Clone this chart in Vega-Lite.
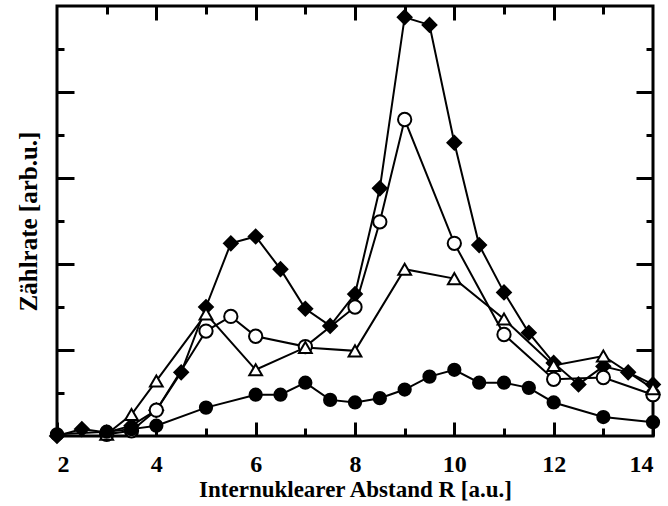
{
  "$schema": "https://vega.github.io/schema/vega-lite/v6.json",
  "width": 596,
  "height": 430,
  "autosize": "none",
  "padding": {"left": 57, "top": 6, "right": 15, "bottom": 70},
  "background": "white",
  "config": {
    "view": {"stroke": "black", "strokeWidth": 3},
    "font": "Liberation Serif",
    "axis": {"domain": false, "grid": false, "tickColor": "black", "tickWidth": 3, "labelFont": "Liberation Serif", "labelFontWeight": "bold", "labelFontSize": 24, "labelColor": "black", "titleFont": "Liberation Serif", "titleFontWeight": "bold", "titleFontSize": 23, "titleColor": "black"}
  },
  "data": {"values": [
    {"series": "A", "x": 2.0, "y": 0.0},
    {"series": "A", "x": 2.5, "y": 0.08},
    {"series": "A", "x": 3.0, "y": 0.04},
    {"series": "A", "x": 3.5, "y": 0.12},
    {"series": "A", "x": 4.0, "y": 0.3},
    {"series": "A", "x": 4.5, "y": 0.74},
    {"series": "A", "x": 5.0, "y": 1.5},
    {"series": "A", "x": 5.5, "y": 2.24},
    {"series": "A", "x": 6.0, "y": 2.32},
    {"series": "A", "x": 6.5, "y": 1.94},
    {"series": "A", "x": 7.0, "y": 1.48},
    {"series": "A", "x": 7.5, "y": 1.28},
    {"series": "A", "x": 8.0, "y": 1.65},
    {"series": "A", "x": 8.5, "y": 2.88},
    {"series": "A", "x": 9.0, "y": 4.87},
    {"series": "A", "x": 9.5, "y": 4.78},
    {"series": "A", "x": 10.0, "y": 3.41},
    {"series": "A", "x": 10.5, "y": 2.22},
    {"series": "A", "x": 11.0, "y": 1.67},
    {"series": "A", "x": 11.5, "y": 1.2},
    {"series": "A", "x": 12.0, "y": 0.85},
    {"series": "A", "x": 12.5, "y": 0.6},
    {"series": "A", "x": 13.0, "y": 0.81},
    {"series": "A", "x": 13.5, "y": 0.74},
    {"series": "A", "x": 14.0, "y": 0.6},
    {"series": "B", "x": 3.0, "y": 0.02},
    {"series": "B", "x": 3.5, "y": 0.06},
    {"series": "B", "x": 4.0, "y": 0.3},
    {"series": "B", "x": 5.0, "y": 1.22},
    {"series": "B", "x": 5.5, "y": 1.39},
    {"series": "B", "x": 6.0, "y": 1.16},
    {"series": "B", "x": 7.0, "y": 1.04},
    {"series": "B", "x": 8.0, "y": 1.5},
    {"series": "B", "x": 8.5, "y": 2.49},
    {"series": "B", "x": 9.0, "y": 3.68},
    {"series": "B", "x": 10.0, "y": 2.24},
    {"series": "B", "x": 11.0, "y": 1.18},
    {"series": "B", "x": 12.0, "y": 0.66},
    {"series": "B", "x": 13.0, "y": 0.68},
    {"series": "B", "x": 14.0, "y": 0.48},
    {"series": "C", "x": 3.0, "y": 0.02},
    {"series": "C", "x": 3.5, "y": 0.25},
    {"series": "C", "x": 4.0, "y": 0.64},
    {"series": "C", "x": 5.0, "y": 1.42},
    {"series": "C", "x": 6.0, "y": 0.77},
    {"series": "C", "x": 7.0, "y": 1.03},
    {"series": "C", "x": 8.0, "y": 0.99},
    {"series": "C", "x": 9.0, "y": 1.94},
    {"series": "C", "x": 10.0, "y": 1.83},
    {"series": "C", "x": 11.0, "y": 1.36},
    {"series": "C", "x": 12.0, "y": 0.82},
    {"series": "C", "x": 13.0, "y": 0.93},
    {"series": "C", "x": 14.0, "y": 0.55},
    {"series": "D", "x": 2.0, "y": 0.02},
    {"series": "D", "x": 3.0, "y": 0.05},
    {"series": "D", "x": 3.5, "y": 0.08},
    {"series": "D", "x": 4.0, "y": 0.12},
    {"series": "D", "x": 5.0, "y": 0.33},
    {"series": "D", "x": 6.0, "y": 0.48},
    {"series": "D", "x": 6.5, "y": 0.48},
    {"series": "D", "x": 7.0, "y": 0.62},
    {"series": "D", "x": 7.5, "y": 0.42},
    {"series": "D", "x": 8.0, "y": 0.39},
    {"series": "D", "x": 8.5, "y": 0.44},
    {"series": "D", "x": 9.0, "y": 0.54},
    {"series": "D", "x": 9.5, "y": 0.69},
    {"series": "D", "x": 10.0, "y": 0.77},
    {"series": "D", "x": 10.5, "y": 0.62},
    {"series": "D", "x": 11.0, "y": 0.62},
    {"series": "D", "x": 11.5, "y": 0.56},
    {"series": "D", "x": 12.0, "y": 0.39},
    {"series": "D", "x": 13.0, "y": 0.22},
    {"series": "D", "x": 14.0, "y": 0.16}
  ]},
  "layer": [
    {
      "mark": {"type": "line", "color": "black", "strokeWidth": 2},
      "encoding": {
        "x": {"field": "x", "type": "quantitative", "scale": {"domain": [2, 14], "nice": false, "zero": false},
              "axis": {"orient": "bottom", "values": [2, 4, 6, 8, 10, 12, 14], "tickSize": -14, "labelPadding": 30, "title": "Internuklearer Abstand R [a.u.]", "titlePadding": 2}},
        "y": {"field": "y", "type": "quantitative", "scale": {"domain": [0, 5], "nice": false},
              "axis": {"orient": "left", "values": [1, 2, 3, 4], "tickSize": -17, "labels": false, "title": "Zählrate [arb.u.]", "titleFontSize": 25, "titlePadding": 14}},
        "detail": {"field": "series"}
      }
    },
    {
      "mark": {"type": "point", "filled": true, "stroke": "black", "strokeWidth": 2, "opacity": 1},
      "encoding": {
        "x": {"field": "x", "type": "quantitative", "axis": {"orient": "bottom", "values": [3, 5, 7, 9, 11, 13], "tickSize": -8, "labels": false, "title": null}},
        "y": {"field": "y", "type": "quantitative", "axis": {"orient": "left", "values": [0.5, 1.5, 2.5, 3.5, 4.5], "tickSize": -7, "labels": false, "title": null}},
        "shape": {"field": "series", "scale": {"domain": ["A", "B", "C", "D"], "range": ["diamond", "circle", "triangle-up", "circle"]}, "legend": null},
        "fill": {"field": "series", "scale": {"domain": ["A", "B", "C", "D"], "range": ["black", "white", "white", "black"]}, "legend": null},
        "size": {"field": "series", "scale": {"domain": ["A", "B", "C", "D"], "range": [190, 150, 140, 170]}, "legend": null}
      }
    },
    {
      "mark": {"type": "point", "opacity": 0},
      "encoding": {
        "x": {"field": "x", "type": "quantitative", "axis": {"orient": "top", "values": [4, 6, 8, 10, 12], "tickSize": -14, "labels": false, "title": null}},
        "y": {"field": "y", "type": "quantitative", "axis": {"orient": "right", "values": [1, 2, 3, 4], "tickSize": -17, "labels": false, "title": null}}
      }
    },
    {
      "mark": {"type": "point", "opacity": 0},
      "encoding": {
        "x": {"field": "x", "type": "quantitative", "axis": {"orient": "top", "values": [3, 5, 7, 9, 11, 13], "tickSize": -8, "labels": false, "title": null}},
        "y": {"field": "y", "type": "quantitative", "axis": {"orient": "right", "values": [0.5, 1.5, 2.5, 3.5, 4.5], "tickSize": -7, "labels": false, "title": null}}
      }
    }
  ],
  "resolve": {"axis": {"x": "independent", "y": "independent"}}
}
